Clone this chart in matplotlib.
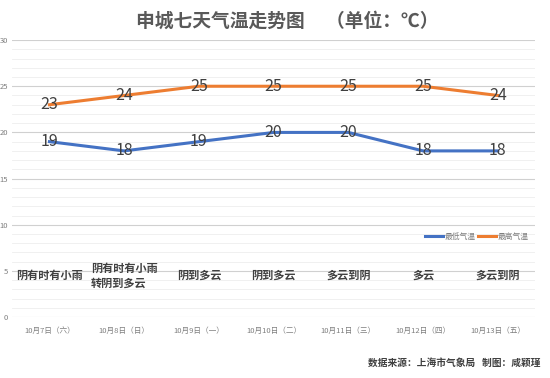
import matplotlib.pyplot as plt
from matplotlib.ticker import MultipleLocator

plt.rcParams['font.family'] = ['Noto Sans CJK SC', 'DejaVu Sans']

dates = ['10月7日（六）', '10月8日（日）', '10月9日（一）', '10月10日（二）',
         '10月11日（三）', '10月12日（四）', '10月13日（五）']
weather = ['阴有时有小雨', '阴有时有小雨\n转阴到多云', '阴到多云', '阴到多云',
           '多云到阴', '多云', '多云到阴']
low = [19, 18, 19, 20, 20, 18, 18]
high = [23, 24, 25, 25, 25, 25, 24]

blue = '#4472C4'
orange = '#ED7D31'

fig = plt.figure(figsize=(5.5, 3.78), dpi=100)
ax = fig.add_axes([0.022, 0.161, 0.951, 0.733])

x = list(range(len(dates)))
ax.plot(x, low, color=blue, linewidth=2.2, label='最低气温', zorder=3)
ax.plot(x, high, color=orange, linewidth=2.2, label='最高气温', zorder=3)

# 数值标签 + 天气
for i in x:
    ax.text(i, low[i], str(low[i]), ha='center', va='center', fontsize=11.5,
            color='#404040', zorder=4)
    ax.text(i, high[i], str(high[i]), ha='center', va='center', fontsize=11.5,
            color='#404040', zorder=4)
    ax.text(i, 4.5, weather[i], ha='center', va='center', multialignment='left',
            fontsize=8, fontweight='bold', color='#404040', linespacing=1.2)

ax.set_xlim(-0.5, len(dates) - 0.5)
ax.set_ylim(0, 30)
ax.set_xticks(x)
ax.set_xticklabels(dates, fontsize=5.5, color='#7F7F7F')
ax.yaxis.set_major_locator(MultipleLocator(5))
ax.yaxis.set_minor_locator(MultipleLocator(1))
ax.tick_params(axis='y', labelsize=5.5, colors='#7F7F7F', length=0, pad=3)
ax.tick_params(axis='y', which='minor', length=0)
ax.tick_params(axis='x', length=0, pad=7)
ax.grid(axis='y', which='major', color='#D0D0D0', linewidth=0.8)
ax.grid(axis='y', which='minor', color='#EEEEEE', linewidth=0.6)
ax.set_axisbelow(True)
for s in ax.spines.values():
    s.set_visible(False)

leg = ax.legend(loc='upper right', bbox_to_anchor=(1.0, 0.33), ncol=2, frameon=False,
                fontsize=5.6, handlelength=2.3, handletextpad=0.2, columnspacing=0.3)
for t in leg.get_texts():
    t.set_color('#7F7F7F')

fig.text(0.522, 0.945, '申城七天气温走势图     （单位：℃）', ha='center', va='center',
         fontsize=13.5, fontweight='bold', color='#595959')
fig.text(0.982, 0.04, '数据来源：上海市气象局   制图：咸颖瑾', ha='right', va='center',
         fontsize=7, fontweight='bold', color='#404040')

plt.savefig('out.png', dpi=100)
